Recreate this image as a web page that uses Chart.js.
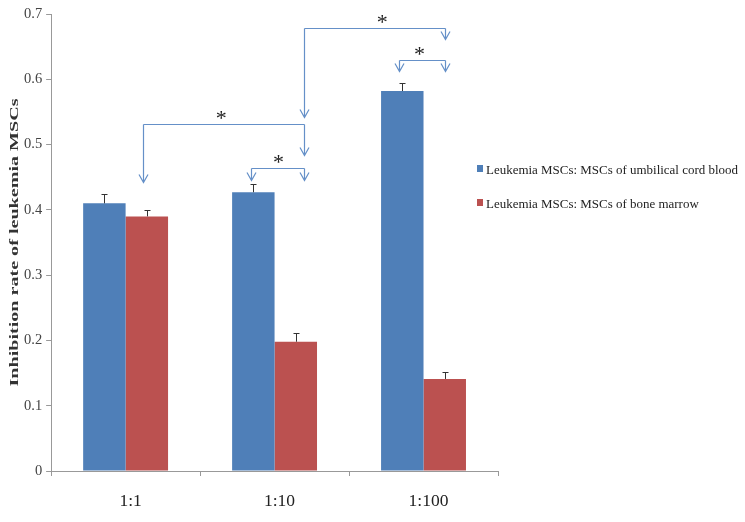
<!DOCTYPE html>
<html>
<head>
<meta charset="utf-8">
<script src="https://cdn.jsdelivr.net/npm/chart.js@4"></script>
<style>
  html, body { margin: 0; padding: 0; background: #fff; }
  #wrap { width: 745px; height: 522px; }
</style>
</head>
<body>
<div id="wrap"><canvas id="chart" width="745" height="522"></canvas></div>
<script>
// data
const ratios = ['1:1', '1:10', '1:100'];
const seriesNames = ['Leukemia MSCs: MSCs of umbilical cord blood', 'Leukemia MSCs: MSCs of bone marrow'];
const cordBlood = [0.41, 0.427, 0.582];
const boneMarrow = [0.39, 0.198, 0.141];
const cordBloodErr = [0.015, 0.012, 0.012];
const boneMarrowErr = [0.010, 0.013, 0.011];
const yTitle = 'Inhibition rate of leukemia MSCs';

// significance brackets, in category index / value units
const brackets = [
    { x1: 0.115, x2: 1.196, y: 0.531, end1: 0.443, end2: 0.484, sx: 0.642, sy: 0.548 },
    { x1: 0.845, x2: 1.196, y: 0.464, end1: 0.446, end2: 0.446, sx: 1.027, sy: 0.481 },
    { x1: 1.196, x2: 2.142, y: 0.678, end1: 0.542, end2: 0.662, sx: 1.723, sy: 0.695 },
    { x1: 1.838, x2: 2.142, y: 0.629, end1: 0.613, end2: 0.613, sx: 1.973, sy: 0.646 }
];

const BLUE = '#4f7fb8';
const RED = '#bb5150';
const serif = '"Liberation Serif", "Times New Roman", serif';

const errorBars = {
    id: 'errorBars',
    afterDatasetsDraw(chart) {
        const ctx = chart.ctx;
        const y = chart.scales.y;
        const errs = [cordBloodErr, boneMarrowErr];
        ctx.save();
        ctx.strokeStyle = '#333';
        ctx.lineWidth = 1;
        chart.data.datasets.forEach((ds, i) => {
            const meta = chart.getDatasetMeta(i);
            meta.data.forEach((bar, j) => {
                const top = Math.round(y.getPixelForValue(ds.data[j] + errs[i][j])) + 0.5;
                const x = Math.round(bar.x) + 0.5;
                ctx.beginPath();
                ctx.moveTo(x, bar.y);
                ctx.lineTo(x, top);
                ctx.moveTo(x - 3, top);
                ctx.lineTo(x + 3, top);
                ctx.stroke();
            });
        });
        ctx.restore();
    }
};

// the y title is stretched along its length in the figure, so it is drawn by hand
const yTitlePlugin = {
    id: 'yTitlePlugin',
    afterDraw(chart) {
        const ctx = chart.ctx;
        const area = chart.chartArea;
        ctx.save();
        ctx.fillStyle = '#333';
        ctx.font = 'bold 13px ' + serif;
        ctx.textAlign = 'center';
        ctx.textBaseline = 'middle';
        const w = ctx.measureText(yTitle).width;
        ctx.translate(15, (area.top + area.bottom) / 2);
        ctx.rotate(-Math.PI / 2);
        ctx.scale(288 / w, 1);
        ctx.fillText(yTitle, 0, 0);
        ctx.restore();
    }
};

const annotations = {
    id: 'annotations',
    afterDraw(chart) {
        const ctx = chart.ctx;
        const xs = chart.scales.x, ys = chart.scales.y;
        const px = v => Math.round(xs.getPixelForValue(v)) + 0.5;
        const py = v => Math.round(ys.getPixelForValue(v)) + 0.5;

        function arrow(x, y0, y1) {
            ctx.beginPath();
            ctx.moveTo(x, y0);
            ctx.lineTo(x, y1);
            ctx.moveTo(x - 4.5, y1 - 8);
            ctx.lineTo(x, y1);
            ctx.lineTo(x + 4.5, y1 - 8);
            ctx.stroke();
        }

        ctx.save();
        ctx.strokeStyle = '#6590c8';
        ctx.lineWidth = 1.2;
        brackets.forEach(b => {
            const x1 = px(b.x1), x2 = px(b.x2), y = py(b.y);
            ctx.beginPath();
            ctx.moveTo(x1, y);
            ctx.lineTo(x2, y);
            ctx.stroke();
            arrow(x1, y, py(b.end1));
            arrow(x2, y, py(b.end2));
            ctx.fillStyle = '#222';
            ctx.font = '22px ' + serif;
            ctx.textAlign = 'center';
            ctx.textBaseline = 'alphabetic';
            ctx.fillText('*', xs.getPixelForValue(b.sx), ys.getPixelForValue(b.sy) + 12);
        });

        // legend on the right
        const colors = [BLUE, RED];
        const baselines = [174, 208];
        ctx.font = '13.5px ' + serif;
        ctx.textAlign = 'left';
        ctx.textBaseline = 'alphabetic';
        const k = 252 / ctx.measureText(seriesNames[0]).width;
        seriesNames.forEach((name, i) => {
            ctx.fillStyle = colors[i];
            ctx.fillRect(477, baselines[i] - 9, 6, 7);
            ctx.fillStyle = '#222';
            ctx.save();
            ctx.translate(486, baselines[i]);
            ctx.scale(k, 1);
            ctx.fillText(name, 0, 0);
            ctx.restore();
        });
        ctx.restore();
    }
};

new Chart(document.getElementById('chart').getContext('2d'), {
    type: 'bar',
    data: {
        labels: ratios,
        datasets: [
            { label: seriesNames[0], data: cordBlood, backgroundColor: BLUE, borderWidth: 0 },
            { label: seriesNames[1], data: boneMarrow, backgroundColor: RED, borderWidth: 0 }
        ]
    },
    options: {
        responsive: false,
        animation: false,
        datasets: { bar: { categoryPercentage: 0.57, barPercentage: 1.0 } },
        layout: { padding: { top: 14, right: 247, bottom: -5, left: 20 } },
        plugins: {
            legend: { display: false },
            tooltip: { enabled: false }
        },
        scales: {
            x: {
                grid: {
                    display: true,
                    drawOnChartArea: false,
                    drawTicks: true,
                    tickLength: 5,
                    color: '#999'
                },
                border: { color: '#999' },
                ticks: {
                    color: '#222',
                    font: { family: serif, size: 17.5 },
                    padding: 15,
                    labelOffset: 5
                }
            },
            y: {
                min: 0,
                max: 0.7,
                grid: {
                    display: true,
                    drawOnChartArea: false,
                    drawTicks: true,
                    tickLength: 5,
                    color: '#999'
                },
                border: { color: '#999' },
                ticks: {
                    stepSize: 0.1,
                    color: '#444',
                    font: { family: serif, size: 14.5 },
                    padding: 4,
                    callback: v => Number(v.toFixed(1)).toString()
                }
            }
        }
    },
    plugins: [errorBars, yTitlePlugin, annotations]
});
</script>
</body>
</html>
